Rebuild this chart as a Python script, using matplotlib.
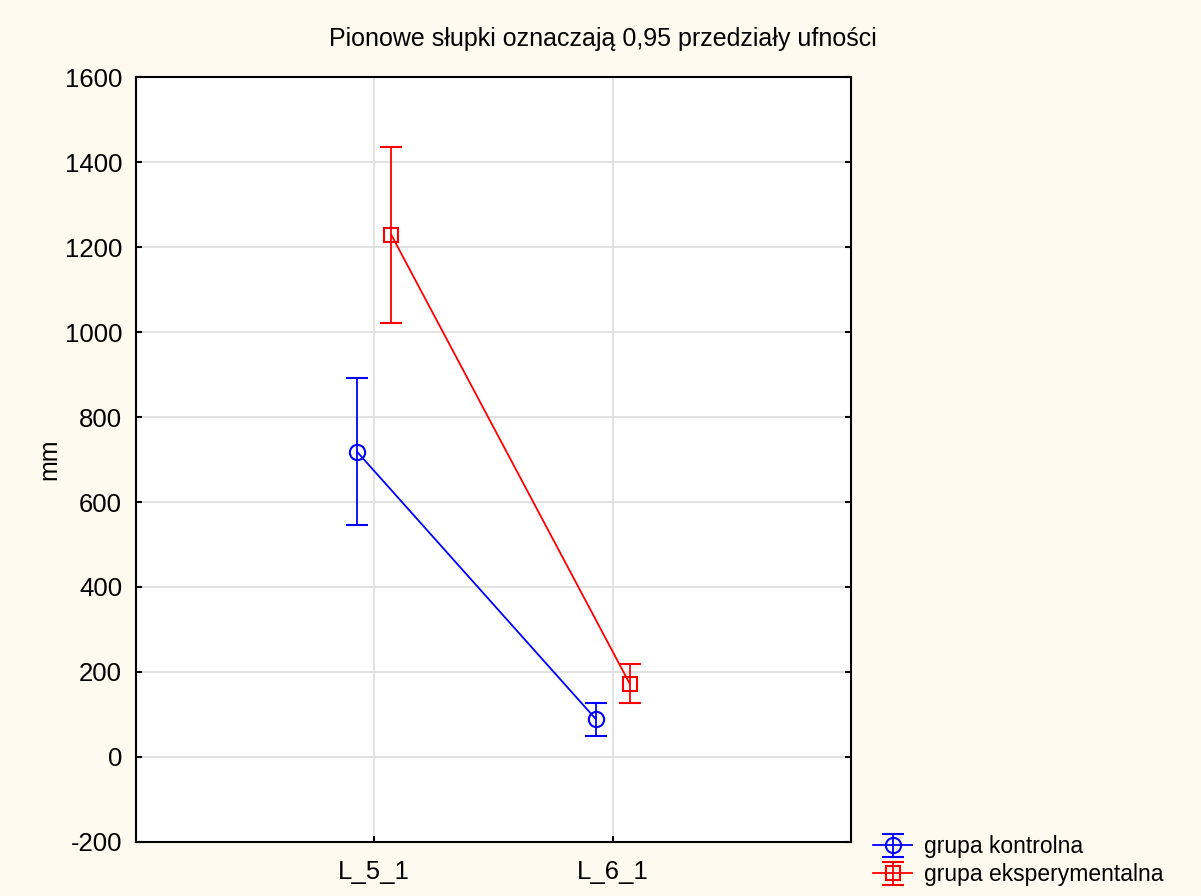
import matplotlib.pyplot as plt
import matplotlib.ticker as mticker
import numpy as np

plt.rcParams['font.family'] = ['Liberation Sans', 'DejaVu Sans']
plt.rcParams['axes.unicode_minus'] = False

# dane
kategorie = ["L_5_1", "L_6_1"]
grupy = ["grupa kontrolna", "grupa eksperymentalna"]
srednie_kontrolna = [718, 90]
dolne_kontrolna = [545, 50]
gorne_kontrolna = [892, 128]
srednie_eksp = [1228, 172]
dolne_eksp = [1021, 127]
gorne_eksp = [1435, 219]

tlo = "#FFFAF0"

fig = plt.figure(figsize=(12.01, 8.96), dpi=100, facecolor=tlo)
ax = fig.add_axes([0.1132, 0.0603, 0.5954, 0.8537])
ax.set_facecolor("white")

x = np.arange(1, len(kategorie) + 1)
przes = 0.072

serie = [
    (srednie_kontrolna, dolne_kontrolna, gorne_kontrolna, "#0000FF", "o", 11, -przes),
    (srednie_eksp, dolne_eksp, gorne_eksp, "#FF0000", "s", 10, przes),
]
for (sr, dol, gor, kolor, marker, ms, dx), nazwa in zip(serie, grupy):
    sr = np.array(sr)
    err = [sr - np.array(dol), np.array(gor) - sr]
    ax.errorbar(x + dx, sr, yerr=err, color=kolor, marker=marker, ms=ms,
                mfc="none", mec=kolor, mew=1.5, lw=1.3, elinewidth=1.3,
                capsize=8, capthick=1.3, label=nazwa, zorder=3)

ax.set_xlim(0, 3)
ax.set_ylim(-200, 1600)
ax.set_yticks(np.arange(-200, 1601, 200))
ax.yaxis.set_major_formatter(mticker.FormatStrFormatter("%d"))
ax.set_xticks(x)
ax.set_xticklabels(kategorie)
ax.grid(True, color="#DDDDDD", lw=1.2, zorder=0)
ax.set_axisbelow(True)
ax.tick_params(direction="in", length=4, width=1.5, labelsize=18.5, right=True)
ax.tick_params(axis="x", pad=13)
ax.tick_params(axis="y", pad=10)
for s in ax.spines.values():
    s.set_linewidth(1.5)
    s.set_color("black")

ax.set_ylabel("mm", fontsize=18, labelpad=2)
fig.text(0.502, 0.957, "Pionowe słupki oznaczają 0,95 przedziały ufności",
         ha="center", va="center", fontsize=18)

fig.legend(loc="lower left", bbox_to_anchor=(0.710, -0.012), frameon=False,
           fontsize=16.5, labelspacing=0.22, handlelength=1.7, handletextpad=0.5)

fig.savefig("out.png", dpi=100, facecolor=tlo)
